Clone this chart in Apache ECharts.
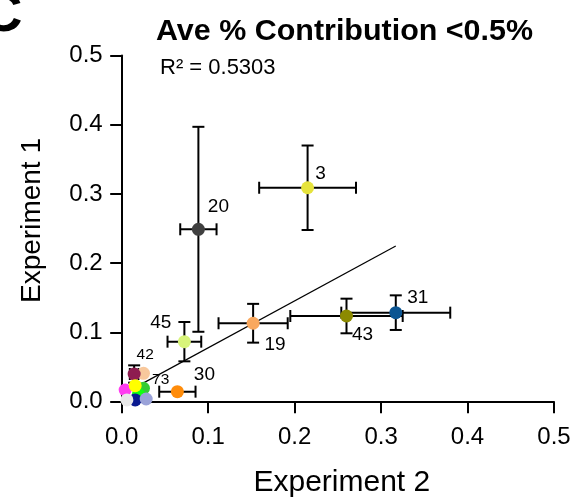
<!DOCTYPE html>
<html>
<head>
<meta charset="utf-8">
<script src="https://cdn.jsdelivr.net/npm/echarts@6/dist/echarts.min.js"></script>
<style>html,body{margin:0;padding:0;background:#fff}#chart{width:577px;height:497px}</style>
</head>
<body>
<div id="chart"></div>
<script>
// ---- data ----
const pointLabels = ['3', '20', '45', '19', '43', '31', '30', '', '42', '', '', '', '73', '', '', ''];
const exp2 =    [0.215, 0.0887, 0.0725, 0.152, 0.260, 0.317, 0.0644, 0.0252, 0.0144, 0.004, 0.0252, 0.0194, 0.0156, 0.0156, 0.0283, 0.006];
const exp1 =    [0.309, 0.249, 0.0867, 0.1133, 0.1238, 0.1286, 0.0145, 0.041, 0.040, 0.0169, 0.0194, 0.0107, 0.0231, 0.0025, 0.0039, 0.0025];
const exp2Err = [0.056, 0.021, 0.0195, 0.040, 0.065, 0.063, 0.021, 0, 0.005, 0, 0, 0, 0, 0, 0, 0];
const exp1Err = [0.061, 0.148, 0.0284, 0.028, 0.025, 0.025, 0, 0, 0.0125, 0, 0, 0, 0, 0, 0, 0];
const fitSlope = 0.678;
const fitIntercept = 0.010;
const rSquared = '0.5303';
const xTicks = [0.0, 0.1, 0.2, 0.3, 0.4, 0.5];
const yTicks = [0.0, 0.1, 0.2, 0.3, 0.4, 0.5];
const xTitle = 'Experiment 2';
const yTitle = 'Experiment 1';
const chartTitle = 'Ave % Contribution <0.5%';

// ---- styles ----
const pointColors = ['#e6e33c', '#404040', '#d8f47a', '#f9a85e', '#8c8a00', '#0b5592', '#ff8c0a', '#f8c89c', '#8e1c50', '#ff3cf0', '#33cc33', '#11ff11', '#ffff00', '#0a1a90', '#9aa2d8', '#e8e8e8'];
const labelOffsets = {
  '3': [13, -14], '20': [20, -22.5], '45': [-23.6, -19], '19': [22, 22], '43': [16, 19],
  '31': [22, -15], '30': [27, -16.7], '42': [11, -19.5], '73': [25.5, -6]
};
const smallLabels = {'42': true, '73': true};
const FONT = "'Liberation Sans', Arial, sans-serif";

const chart = echarts.init(document.getElementById('chart'), null, {renderer: 'canvas'});

const scatterData = exp2.map((x, i) => {
  const lab = pointLabels[i];
  const item = {value: [x, exp1[i]], itemStyle: {color: pointColors[i]}};
  if (lab) {
    item.label = {
      show: true, formatter: lab, position: 'inside', offset: labelOffsets[lab],
      color: '#000', fontSize: smallLabels[lab] ? 15.5 : 19, fontFamily: FONT
    };
  } else {
    item.label = {show: false};
  }
  return item;
});

const errData = exp2.map((x, i) => [x, exp1[i], exp2Err[i], exp1Err[i]]);

const xMin = Math.min(...exp2), xMax = Math.max(...exp2);
const fitData = [[xMin, fitIntercept + fitSlope * xMin], [xMax, fitIntercept + fitSlope * xMax]];

function renderErr(params, api) {
  const x = api.value(0), y = api.value(1), xe = api.value(2), ye = api.value(3);
  const cap = 6;
  const st = {stroke: '#000', lineWidth: 2};
  const ch = [];
  if (xe > 0) {
    const l = api.coord([x - xe, y]), r = api.coord([x + xe, y]);
    ch.push({type: 'line', shape: {x1: l[0], y1: l[1], x2: r[0], y2: r[1]}, style: st});
    ch.push({type: 'line', shape: {x1: l[0], y1: l[1] - cap, x2: l[0], y2: l[1] + cap}, style: st});
    ch.push({type: 'line', shape: {x1: r[0], y1: r[1] - cap, x2: r[0], y2: r[1] + cap}, style: st});
  }
  if (ye > 0) {
    const t = api.coord([x, y + ye]), b = api.coord([x, y - ye]);
    ch.push({type: 'line', shape: {x1: t[0], y1: t[1], x2: b[0], y2: b[1]}, style: st});
    ch.push({type: 'line', shape: {x1: t[0] - cap, y1: t[1], x2: t[0] + cap, y2: t[1]}, style: st});
    ch.push({type: 'line', shape: {x1: b[0] - cap, y1: b[1], x2: b[0] + cap, y2: b[1]}, style: st});
  }
  return {type: 'group', children: ch};
}

const axisCommon = {
  type: 'value', min: 0, max: 0.5, interval: 0.1,
  axisLine: {show: true, onZero: false, lineStyle: {color: '#000', width: 2}},
  axisTick: {show: true, length: 11.5, lineStyle: {color: '#000', width: 2}},
  splitLine: {show: false},
  nameLocation: 'middle'
};

chart.setOption({
  animation: false,
  backgroundColor: '#fff',
  grid: {left: 121.7, right: 23, top: 55.5, bottom: 95.3, containLabel: false, outerBoundsMode: 'none'},
  xAxis: Object.assign({}, axisCommon, {
    name: xTitle, nameGap: 66,
    nameTextStyle: {color: '#000', fontSize: 30, fontFamily: FONT, padding: [0, 0, 0, 8]},
    axisLabel: {color: '#000', fontSize: 24, fontFamily: FONT, margin: 24,
      formatter: v => xTicks.find(t => Math.abs(t - v) < 1e-9).toFixed(1)}
  }),
  yAxis: Object.assign({}, axisCommon, {
    axisLabel: {color: '#000', fontSize: 24, fontFamily: FONT, margin: 19,
      formatter: v => yTicks.find(t => Math.abs(t - v) < 1e-9).toFixed(1)}
  }),
  graphic: [
    {type: 'text', x: 344.5, y: 17.5, scaleX: 1.05, style: {text: chartTitle, align: 'center', verticalAlign: 'top', font: "bold 29px 'Liberation Sans', Arial, sans-serif", fill: '#000'}},
    {type: 'text', x: 160, y: 57, style: {text: 'R\u00b2 = ' + rSquared, verticalAlign: 'top', font: "22px 'Liberation Sans', Arial, sans-serif", fill: '#000'}},
    {type: 'text', x: 32, y: 220.5, rotation: Math.PI / 2, style: {text: yTitle, align: 'center', verticalAlign: 'middle', font: "28px 'Liberation Sans', Arial, sans-serif", fill: '#000'}},
    {type: 'text', x: -18, y: -12, style: {text: 'C', verticalAlign: 'top', font: "bold 56px 'Liberation Sans', Arial, sans-serif", fill: '#000'}}
  ],
  series: [
    {type: 'line', data: fitData, showSymbol: false, symbol: 'none', z: 1,
      lineStyle: {color: '#000', width: 1.2}},
    {type: 'custom', data: errData, renderItem: renderErr, encode: {x: 0, y: 1}, z: 2, silent: true},
    {type: 'scatter', data: scatterData, symbolSize: 13, z: 3,
      itemStyle: {opacity: 1, borderWidth: 0}}
  ]
});
</script>
</body>
</html>
